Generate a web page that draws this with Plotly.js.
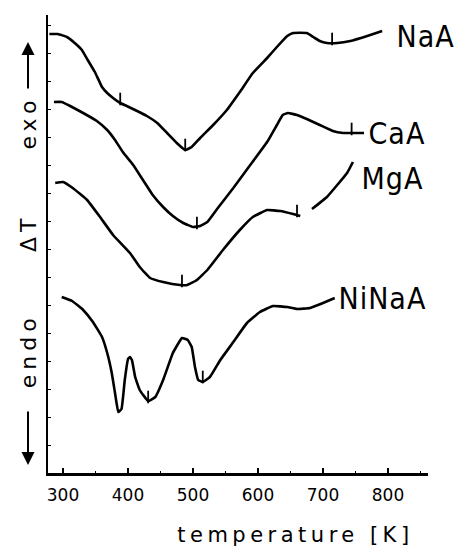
<!DOCTYPE html>
<html><head><meta charset="utf-8">
<script src="https://cdn.plot.ly/plotly-3.0.1.min.js"></script>
<style>
html,body{margin:0;padding:0;background:#fff;}
#chart{width:457px;height:558px;}
.annotation[data-index="0"] text,.annotation[data-index="1"] text,.annotation[data-index="2"] text{letter-spacing:5px;}
.annotation[data-index="3"] text{letter-spacing:4.5px;}
.annotation[data-index="4"] text,.annotation[data-index="5"] text,.annotation[data-index="6"] text,.annotation[data-index="7"] text{letter-spacing:1px;}
</style>
</head><body><div id="chart"></div>
<script>
// Temperature [K] and ΔT (arbitrary units, offset curves)
const NaA_T = [279,292,306,318,329,338,349,360,368,377,388,398,414,429,445,460,475,488,498,511,531,552,572,592,614,629,645,654,675,685,695,706,722,742,768,791];
const NaA_v = [439,439,436,430,423,413,401,386,380,375,370,367,362,357,350,340,330,323,326,335,348,363,381,400,415,426,437,440,440,436,432,430,430,432,437,442];

const CaA_T = [286,298,311,331,352,368,380,392,408,423,438,454,469,485,500,511,522,537,562,588,614,629,638,646,660,675,695,715,731,746,763];
const CaA_v = [371,371,367,360,352,343,333,321,308,293,278,266,257,250,246,247,251,264,285,308,331,348,358,360,358,354,348,342,340,340,340];

const MgA_T = [288,300,315,337,357,377,403,418,434,454,480,491,506,522,546,572,592,614,634,654,665,674,683,706,737,746];
const MgA_v = [290,291,285,273,256,238,220,206,195,191,188,188,193,203,223,243,256,263,262,259,257,null,264,276,300,311];

const NiNaA_T = [298,314,331,346,360,368,375,380,385,390,395,400,403,406,411,418,431,442,454,469,483,492,498,503,508,515,526,542,562,583,603,623,645,660,680,700,718];
const NiNaA_v = [176,172,163,151,136,120,100,80,61,64,93,114,116,113,96,83,72,76,93,120,135,133,126,106,93,91,96,113,131,150,161,167,166,164,165,170,175];

// small vertical peak marks drawn on the curves
const NaA_markT = [388,488,714];   const NaA_markV = [374,328,434];
const CaA_markT = [506,744];       const CaA_markV = [250,344];
const MgA_markT = [483,660];       const MgA_markV = [192,262];
const NiNaA_markT = [431,515];     const NiNaA_markV = [76,96];

const seriesNames = ['NaA','CaA','MgA','NiNaA'];
const xTicks = [300,400,500,600,700,800];
const xTitle = 'temperature [K]';
const yWords = ['exo','ΔT','endo'];

const curves = [[NaA_T,NaA_v],[CaA_T,CaA_v],[MgA_T,MgA_v],[NiNaA_T,NiNaA_v]];
const marks = [[NaA_markT,NaA_markV],[CaA_markT,CaA_markV],[MgA_markT,MgA_markV],[NiNaA_markT,NiNaA_markV]];

const traces = [];
curves.forEach((c,i)=>{
  traces.push({x:c[0], y:c[1], type:'scatter', mode:'lines', name:seriesNames[i],
    line:{color:'#000', width:2.6, shape:'spline', smoothing:0.3}, connectgaps:false, hoverinfo:'skip'});
});
marks.forEach((m,i)=>{
  traces.push({x:m[0], y:m[1], type:'scatter', mode:'markers', name:seriesNames[i]+' marks',
    marker:{symbol:'line-ns', size:9, line:{color:'#000', width:1.8}}, hoverinfo:'skip'});
});

const labFont = {family:'DejaVu Sans Condensed, sans-serif', size:30, color:'#000'};
const axFont = {family:'DejaVu Sans, sans-serif', size:22, color:'#000'};
const labShift = [[14,-5],[4,0],[8,-16],[4,0]];

const annotations = [
  {text:yWords[0], xref:'paper', yref:'paper', x:-0.0526, y:0.764, textangle:-90, showarrow:false, font:axFont, xanchor:'center', yanchor:'middle'},
  {text:yWords[1], xref:'paper', yref:'paper', x:-0.0526, y:0.524, textangle:-90, showarrow:false, font:axFont, xanchor:'center', yanchor:'middle'},
  {text:yWords[2], xref:'paper', yref:'paper', x:-0.0526, y:0.266, textangle:-90, showarrow:false, font:axFont, xanchor:'center', yanchor:'middle'},
  {text:xTitle, xref:'paper', yref:'paper', x:0.65, y:-0.135, showarrow:false, font:{family:'DejaVu Sans, sans-serif', size:21, color:'#000'}, xanchor:'center', yanchor:'middle'}
];
curves.forEach((c,i)=>{
  const n = c[0].length-1;
  annotations.push({text:seriesNames[i], x:c[0][n], y:c[1][n], xanchor:'left', yanchor:'middle',
    xshift:labShift[i][0], yshift:labShift[i][1], showarrow:false, font:labFont});
});
// axis direction arrows
annotations.push({text:'', xref:'paper', yref:'paper', x:-0.0526, y:0.941, ax:0, ay:48, showarrow:true, arrowhead:2, arrowsize:1.3, arrowwidth:2, arrowcolor:'#000'});
annotations.push({text:'', xref:'paper', yref:'paper', x:-0.0526, y:0.0175, ax:0, ay:-55, showarrow:true, arrowhead:2, arrowsize:1.3, arrowwidth:2, arrowcolor:'#000'});

const layout = {
  width:457, height:558,
  margin:{l:48, r:29, t:15, b:85, pad:0},
  paper_bgcolor:'#fff', plot_bgcolor:'#fff',
  showlegend:false,
  font:{family:'DejaVu Sans, sans-serif', color:'#000'},
  xaxis:{range:[276.9,861.5], tickvals:xTicks, ticktext:xTicks.map(String), ticks:'inside', ticklen:5, tickwidth:2,
    tickcolor:'#000', showline:true, linewidth:2.5, linecolor:'#000', showgrid:false, zeroline:false,
    tickfont:{family:'DejaVu Sans, sans-serif', size:17, color:'#000'}, ticklabelstandoff:5,
    minor:{dtick:50, tick0:300, ticks:'inside', ticklen:2, tickwidth:1, tickcolor:'#000'}},
  yaxis:{range:[0,458], showticklabels:false, ticks:'inside', ticklen:3, tickwidth:1, tickcolor:'#000', dtick:28,
    showline:true, linewidth:2.5, linecolor:'#000', showgrid:false, zeroline:false},
  annotations:annotations
};

Plotly.newPlot('chart', traces, layout, {staticPlot:true, displayModeBar:false});
</script></body></html>
